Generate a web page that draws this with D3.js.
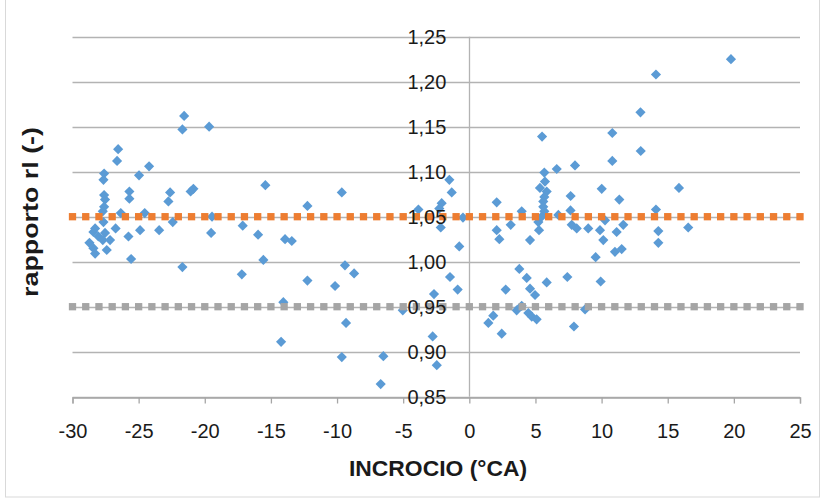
<!DOCTYPE html>
<html>
<head>
<meta charset="utf-8">
<script src="https://cdn.jsdelivr.net/npm/d3@7"></script>
<style>
  html, body { margin: 0; padding: 0; background: #ffffff; }
  svg { display: block; font-family: "Liberation Sans", Arial, sans-serif; }
</style>
</head>
<body>
<svg id="chart" width="825" height="502"></svg>
<script>
// ---- data ----
const incrocio = [
  -28.72, -28.42, -28.29, -28.04, -28.42, -28.29, -27.54, -27.71, -27.16, -27.41,
  -27.66, -27.61, -27.66, -27.61, -27.54, -27.61, -27.71, -26.55, -26.63, -26.74,
  -26.35, -25.70, -25.70, -25.77, -25.57, -24.97, -24.21, -24.89, -24.54, -23.45,
  -22.75, -22.62, -22.42, -21.69, -21.56, -21.69, -20.86, -21.07, -19.67, -19.52,
  -19.45, -17.13, -17.20, -15.97, -15.57, -15.42, -14.23, -14.06, -13.93, -13.42,
  -12.24, -12.24, -10.15, -9.64, -9.40, -8.71, -9.32, -9.64, -6.50, -6.70,
  -5.03, -3.85, -1.51, -1.33, -2.09, -2.27, -2.16, -0.48, -0.76, -1.46,
  -0.88, -2.67, -2.77, -2.46,
  1.44, 1.81, 2.07, 2.07, 2.27, 2.45, 2.75, 3.13, 3.58, 3.78,
  3.96, 3.96, 4.34, 4.46, 4.59, 4.59, 4.72, 4.97, 5.09, 5.22,
  5.27, 5.34, 5.50, 5.67, 5.72, 5.85, 5.67, 5.59, 5.59, 5.67,
  5.47, 5.85, 6.61, 6.73, 7.41, 7.66, 7.65, 7.74, 7.99, 8.12,
  7.91, 8.75, 8.99, 9.88, 9.55, 9.93, 10.01, 10.13, 10.26, 10.81,
  10.81, 11.01, 11.14, 11.34, 11.52, 11.64, 12.94, 12.96, 14.11, 14.11,
  14.29, 14.29, 15.85, 16.55, 19.78
];
const rapporto = [
  1.021, 1.033, 1.037, 1.028, 1.015, 1.009, 1.032, 1.024, 1.024, 1.013,
  1.044, 1.098, 1.091, 1.074, 1.069, 1.061, 1.056, 1.125, 1.112, 1.037,
  1.054, 1.078, 1.070, 1.028, 1.003, 1.096, 1.106, 1.035, 1.054, 1.035,
  1.067, 1.077, 1.044, 0.994, 1.162, 1.147, 1.081, 1.078, 1.150, 1.032,
  1.050, 1.040, 0.986, 1.030, 1.002, 1.085, 0.911, 0.955, 1.025, 1.023,
  1.062, 0.979, 0.973, 1.077, 0.996, 0.987, 0.932, 0.894, 0.895, 0.864,
  0.946, 1.058, 1.091, 1.077, 1.065, 1.059, 1.038, 1.049, 1.017, 0.983,
  0.969, 0.964, 0.917, 0.885,
  0.932, 0.940, 1.066, 1.035, 1.025, 0.920, 0.969, 1.041, 0.946, 0.992,
  0.951, 1.056, 0.982, 0.943, 1.024, 0.970, 0.939, 0.963, 0.936, 1.044,
  1.035, 1.082, 1.139, 1.099, 1.089, 1.078, 1.072, 1.067, 1.061, 1.056,
  1.050, 0.977, 1.103, 1.052, 0.983, 1.073, 1.057, 1.041, 1.107, 1.037,
  0.928, 0.947, 1.037, 1.035, 1.005, 0.978, 1.081, 1.024, 1.046, 1.143,
  1.112, 1.011, 1.033, 1.069, 1.014, 1.041, 1.166, 1.123, 1.208, 1.058,
  1.034, 1.021, 1.082, 1.038, 1.225
];
// reference lines: one marker at every integer crossing value
const limitX = [-30, -29, -28, -27, -26, -25, -24, -23, -22, -21, -20, -19, -18, -17,
  -16, -15, -14, -13, -12, -11, -10, -9, -8, -7, -6, -5, -4, -3, -2, -1, 0,
  1, 2, 3, 4, 5, 6, 7, 8, 9, 10, 11, 12, 13, 14, 15, 16, 17, 18, 19, 20,
  21, 22, 23, 24, 25];
const limitUpper = 1.05;
const limitLower = 0.95;
const xTicks = [-30, -25, -20, -15, -10, -5, 0, 5, 10, 15, 20, 25];
const yTicks = [0.85, 0.90, 0.95, 1.00, 1.05, 1.10, 1.15, 1.20, 1.25];
const xTitle = "INCROCIO (°CA)";
const yTitle = "rapporto rl (-)";

// ---- layout ----
const svg = d3.select("#chart");
const plotLeft = 72.5, plotRight = 800, plotTop = 36.7, plotBottom = 396.7;
const x = d3.scaleLinear().domain([-30, 25]).range([plotLeft, plotRight]);
const y = d3.scaleLinear().domain([0.85, 1.25]).range([plotBottom, plotTop]);
const itFmt = d3.formatLocale({decimal: ",", thousands: ".", grouping: [3], currency: ["", " €"], minus: "-"}).format(".2f");

// chart frame
svg.append("rect")
  .attr("x", 5.5).attr("y", -2).attr("width", 814).attr("height", 499)
  .attr("fill", "#ffffff").attr("stroke", "#d9d9d9").attr("stroke-width", 1);

// horizontal gridlines
svg.append("g")
  .selectAll("line").data(yTicks).join("line")
  .attr("x1", plotLeft).attr("x2", plotRight)
  .attr("y1", d => Math.round(y(d)) + 0.5).attr("y2", d => Math.round(y(d)) + 0.5)
  .attr("stroke", "#b3b3b3").attr("stroke-width", 1.3);

// x axis (bottom) with outward ticks
const xAxis = d3.axisBottom(x).tickValues(xTicks).tickSize(6).tickFormat(d => String(d));
const gx = svg.append("g")
  .attr("transform", `translate(0,${Math.round(plotBottom) + 0.5})`)
  .call(xAxis);
gx.select(".domain").attr("stroke", "#a6a6a6").attr("stroke-width", 1.3);
gx.selectAll(".tick line").attr("stroke", "#a6a6a6").attr("stroke-width", 1.3);
gx.selectAll(".tick text")
  .attr("y", 0).attr("dy", null)
  .attr("transform", "translate(0,40)")
  .attr("fill", "#1a1a1a")
  .attr("font-size", 20)
  .attr("font-family", "'Liberation Sans', Arial, sans-serif");

// vertical axis line at x = 0
svg.append("line")
  .attr("x1", Math.round(x(0)) + 0.5).attr("x2", Math.round(x(0)) + 0.5)
  .attr("y1", plotTop).attr("y2", plotBottom)
  .attr("stroke", "#b3b3b3").attr("stroke-width", 1.3);

// data series: blue diamonds
const pts = incrocio.map((v, i) => ({x: v, y: rapporto[i]}));
const diamond = d3.symbol().type(d3.symbolDiamond2).size(66);
svg.append("g")
  .selectAll("path").data(pts).join("path")
  .attr("d", diamond)
  .attr("transform", d => `translate(${x(d.x)},${y(d.y)})`)
  .attr("fill", "#5B9BD5");

// reference series: square markers
const sq = 7.3;
function limitSeries(val, color) {
  svg.append("g")
    .selectAll("rect").data(limitX).join("rect")
    .attr("x", d => x(d) - sq / 2)
    .attr("y", y(val) - sq / 2)
    .attr("width", sq).attr("height", sq)
    .attr("fill", color);
}
limitSeries(limitUpper, "#ED7D31");
limitSeries(limitLower, "#A5A5A5");

// y tick labels next to the x = 0 axis
svg.append("g")
  .selectAll("text").data(yTicks).join("text")
  .attr("x", x(0) - 23)
  .attr("y", d => y(d) + 7)
  .attr("text-anchor", "end")
  .attr("font-size", 20)
  .attr("fill", "#1a1a1a")
  .text(d => itFmt(d));

// axis titles
svg.append("text")
  .attr("x", 438).attr("y", 475.5)
  .attr("text-anchor", "middle")
  .attr("font-size", 22.5).attr("font-weight", "bold")
  .attr("fill", "#1a1a1a")
  .attr("textLength", 178).attr("lengthAdjust", "spacingAndGlyphs")
  .text(xTitle);

svg.append("text")
  .attr("transform", `translate(38,212) rotate(-90)`)
  .attr("text-anchor", "middle")
  .attr("font-size", 22.5).attr("font-weight", "bold")
  .attr("fill", "#1a1a1a")
  .attr("textLength", 170).attr("lengthAdjust", "spacingAndGlyphs")
  .text(yTitle);
</script>
</body>
</html>
